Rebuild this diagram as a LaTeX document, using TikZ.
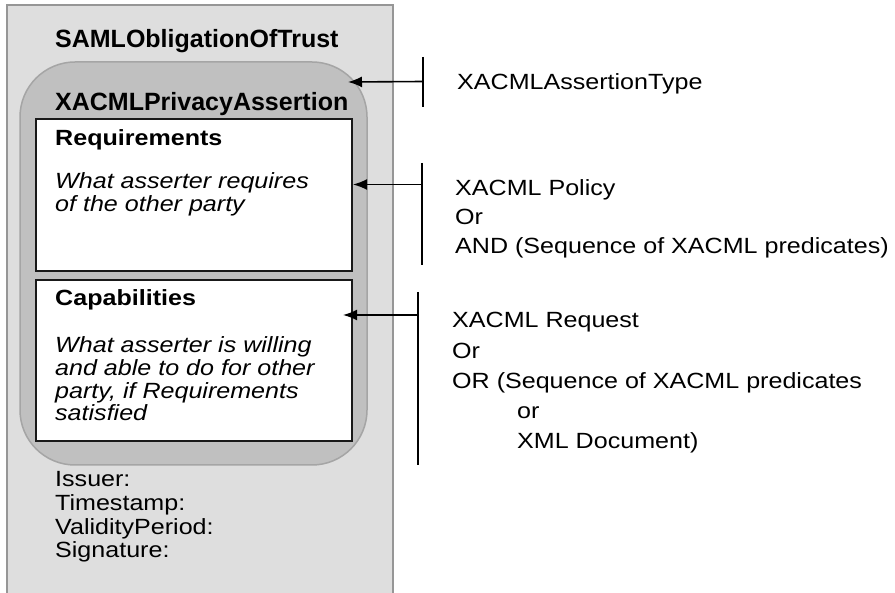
\documentclass[tikz,border=0pt]{standalone}
\usepackage{fontspec}
\setmainfont{Liberation Sans}
\newfontfamily\stf{Liberation Sans}[FakeStretch=1.14]
\usetikzlibrary{arrows.meta}
\newcommand\Lines[1]{\vtop{\halign{##\hfil\cr#1\crcr}}}
\definecolor{outerfill}{RGB}{222,222,222}
\definecolor{outerline}{RGB}{150,150,150}
\definecolor{assertfill}{RGB}{192,192,192}
\definecolor{assertline}{RGB}{165,165,165}
\definecolor{inkline}{RGB}{25,25,25}
\begin{document}
\begin{tikzpicture}[x=1pt,y=-1pt,
  outerbox/.style={draw=outerline, fill=outerfill, line width=1.5pt, inner sep=0pt, outer sep=0pt, anchor=north west},
  assertbox/.style={draw=assertline, fill=assertfill, line width=1.5pt, rounded corners=55pt, inner sep=0pt, outer sep=0pt, anchor=north west},
  innerbox/.style={draw=inkline, fill=white, line width=1.3pt, inner sep=0pt, outer sep=0pt, anchor=north west},
  titletxt/.style={anchor=base west, inner sep=0pt, font=\fontsize{25}{28}\selectfont\bfseries},
  headtxt/.style={anchor=base west, inner sep=0pt, font=\stf\fontsize{22}{26}\selectfont\bfseries},
  itxt/.style={anchor=base west, inner sep=0pt, font=\stf\fontsize{22}{22.7}\selectfont\itshape},
  metatxt/.style={anchor=base west, inner sep=0pt, font=\stf\fontsize{22}{23.7}\selectfont},
  rtxt/.style={anchor=base west, inner sep=0pt, font=\stf\fontsize{22}{#1}\selectfont},
  rtxt/.default=28.7,
  barline/.style={draw=black, line width=1.3pt},
  arr/.style={draw=black, line width=1.6pt, -{Latex[length=14pt,width=11pt]}}
]
\useasboundingbox (0,0) rectangle (895,593);
\fill[white] (0,0) rectangle (895,593);

% containers
\node[outerbox, minimum width=386pt, minimum height=610pt] (outer) at (7,5) {};
\node[assertbox, minimum width=347pt, minimum height=403pt] (assert) at (20,62) {};
\node[innerbox, minimum width=316pt, minimum height=152pt] (req) at (36,119) {};
\node[innerbox, minimum width=316pt, minimum height=161pt] (cap) at (36,280) {};

% left texts
\node[titletxt] (samltitle) at (55,47.7) {SAMLObligationOfTrust};
\node[titletxt] (xptitle) at (55,110.7) {XACMLPrivacyAssertion};
\node[headtxt] (reqh) at (55,145.7) {Requirements};
\node[itxt] (reqt) at (55,189) {\Lines{What asserter requires\cr of the other party}};
\node[headtxt] (caph) at (55,305.7) {Capabilities};
\node[itxt] (capt) at (55,352.7) {\Lines{What asserter is willing\cr and able to do for other\cr party, if Requirements\cr satisfied}};
\node[metatxt] (meta) at (55,486.7) {\Lines{Issuer:\cr Timestamp:\cr ValidityPeriod:\cr Signature:}};

% bars and arrows
\coordinate (b1t) at (423,57);
\coordinate (b1b) at (423,107);
\coordinate (b1m) at (423,81.5);
\coordinate (t1) at (348,82);
\draw[barline] (b1t) -- (b1b);
\draw[arr] (b1m) -- (t1);

\coordinate (b2t) at (422,163);
\coordinate (b2b) at (422,265);
\coordinate (b2m) at (422,184.5);
\coordinate (t2) at (353,184.5);
\draw[barline] (b2t) -- (b2b);
\draw[arr] (b2m) -- (t2);

\coordinate (b3t) at (418,292);
\coordinate (b3b) at (418,465);
\coordinate (b3m) at (418,315);
\coordinate (t3) at (343,315);
\draw[barline] (b3t) -- (b3b);
\draw[arr] (b3m) -- (t3);

% right texts
\node[rtxt] (atype) at (457,90) {XACMLAssertionType};
\node[rtxt=28.7] (policy) at (455,195.7) {\Lines{XACML Policy\cr Or\cr AND (Sequence of XACML predicates)}};
\node[rtxt=30.2] (request) at (452,328) {\Lines{XACML Request\cr Or\cr OR (Sequence of XACML predicates\cr \hskip65pt or\cr \hskip65pt XML Document)}};
\end{tikzpicture}
\end{document}
